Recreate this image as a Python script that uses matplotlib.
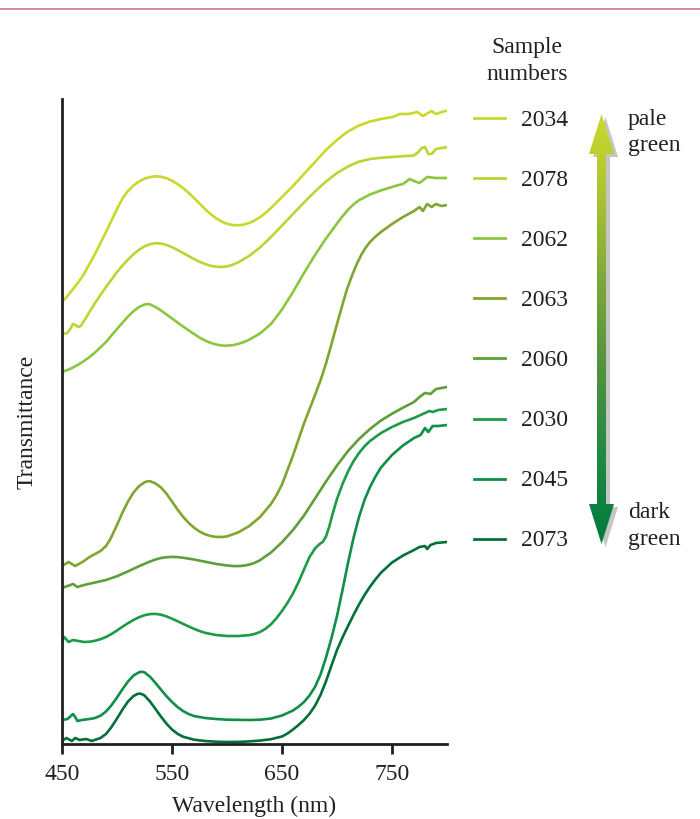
import numpy as np
import matplotlib
matplotlib.use("Agg")
import matplotlib.pyplot as plt
from matplotlib.patches import Polygon
from matplotlib.lines import Line2D
from matplotlib.colors import LinearSegmentedColormap

plt.rcParams['font.family'] = ['Liberation Serif', 'DejaVu Serif']

# Transmittance spectra (relative units) of eight samples, pale -> dark green
samples = ["2034", "2078", "2062", "2063", "2060", "2030", "2045", "2073"]
colors = ["#c8d82c", "#bcd533", "#8cc63f", "#80a630", "#5e9f39", "#1d9a4a", "#0f8f47", "#036f39"]

wl_2034 = [450, 455, 460, 465, 470, 480, 490, 500, 505, 510, 515, 520, 525, 530, 535, 540, 545, 550,
           555, 560, 565, 570, 575, 580, 585, 590, 595, 600, 605, 610, 615, 620, 625, 630, 635, 640,
           650, 660, 670, 680, 690, 695, 700, 705, 710, 720, 730, 740, 751, 757, 765, 773, 778, 786,
           790, 798, 800]
t_2034 = [442, 448, 455, 462, 470, 490, 512, 535, 545.5, 553, 558.5, 562.5, 565.3, 567, 567.7, 567.3,
          565.8, 563.3, 560, 556, 551.3, 546, 540.5, 535, 530, 525.8, 522.5, 520.2, 519, 518.7, 519.3,
          521, 523.5, 526.8, 531, 536, 547, 558, 570, 582, 594, 599, 604, 608.5, 612.5, 618.5, 622.5,
          625, 627, 630, 630, 632, 628, 633, 630, 633, 633]

wl_2078 = [450, 455, 458, 460, 462, 465, 467, 470, 475, 480, 490, 500, 505, 510, 515, 520, 525, 530,
           535, 540, 545, 550, 555, 560, 565, 570, 575, 580, 585, 590, 595, 600, 605, 610, 620, 630,
           640, 650, 660, 670, 680, 690, 700, 710, 715, 720, 730, 740, 750, 760, 770, 774, 777, 780,
           783, 786, 790, 795, 800]
t_2078 = [410, 411, 416, 420, 419, 417, 418, 423, 432, 441, 457, 472, 478.5, 484.5, 489.8, 494.3,
          497.7, 499.8, 500.8, 500.5, 499, 496.8, 494, 491, 488, 485, 482.3, 480, 478.3, 477.3, 477,
          477.6, 479.2, 481.5, 488, 496.5, 507, 518.5, 530, 541.5, 552.5, 562.5, 571, 577.5, 580,
          582.3, 585, 586.2, 587, 587.8, 588.5, 592, 596, 597, 590, 590, 595, 596, 597]

wl_2062 = [450, 455, 460, 465, 470, 475, 480, 490, 500, 505, 510, 515, 520, 525, 528, 530, 535, 540,
           550, 560, 570, 575, 580, 585, 590, 595, 600, 605, 610, 615, 620, 630, 640, 650, 660, 670,
           680, 690, 700, 705, 710, 715, 720, 730, 740, 750, 756, 760, 766, 770, 775, 782, 790, 800]
t_2062 = [372, 374, 376.5, 379.5, 383, 387, 391.5, 402, 415, 421.3, 427.5, 432.8, 437, 439.5, 440,
          439.6, 437, 433.5, 425.5, 417.5, 410, 406.5, 403.5, 401.2, 399.5, 398.5, 398.3, 398.8, 400,
          401.8, 404.2, 410.5, 420, 434.5, 452, 471, 489, 505.5, 520.5, 527.7, 534.3, 539.6, 543.8,
          549.5, 553.6, 557, 559, 560, 565, 563, 561, 567, 566, 566]

wl_2063 = [450, 456, 462, 470, 475, 480, 485, 490, 494, 500, 505, 510, 515, 520, 525, 528, 530, 535,
           540, 545, 550, 555, 560, 565, 570, 575, 580, 585, 590, 595, 600, 610, 620, 630, 640, 645,
           650, 660, 670, 680, 685, 690, 695, 700, 705, 709, 714, 718, 722, 726, 730, 735, 740, 750,
           760, 770, 775, 778, 782, 786, 790, 795, 800]
t_2063 = [178, 182, 178, 183, 187, 190, 193, 198, 205, 219, 231.5, 242.5, 251.5, 257.8, 261.7, 262.8,
          262.8, 260.6, 256.5, 250.3, 242.5, 234.5, 227.3, 221.3, 216.3, 212.5, 209.8, 208, 207.1,
          207, 207.6, 211.5, 217.8, 227, 240, 248.8, 259.5, 288.5, 320.5, 349, 363.5, 380.5, 400,
          420, 439.5, 454.5, 469.5, 480, 489, 496.3, 502, 507.5, 512, 520, 527, 533, 537, 533, 540,
          537, 540, 538, 539]

wl_2060 = [450, 455, 460, 464, 470, 480, 490, 500, 510, 520, 530, 535, 540, 545, 550, 555, 560, 570,
           580, 590, 600, 605, 610, 615, 620, 625, 630, 640, 650, 660, 670, 680, 690, 700, 710, 720,
           730, 740, 750, 760, 770, 775, 780, 785, 790, 800]
t_2060 = [156, 158, 160, 157, 159, 161.5, 164, 167.8, 172.6, 177.8, 182.5, 184.5, 186, 186.8, 187.1,
          186.9, 186.3, 184.5, 182.3, 180.1, 178.5, 178, 177.9, 178.3, 179.3, 181.1, 183.8, 191.5,
          201.8, 214, 228.5, 245.5, 262.5, 278.5, 293, 305, 315, 323.5, 330.3, 336.3, 342, 347, 351,
          350, 355, 357]

wl_2030 = [450, 452, 456, 460, 465, 470, 475, 480, 485, 490, 495, 500, 505, 510, 515, 520, 525, 530,
           535, 540, 545, 550, 555, 560, 565, 570, 575, 580, 590, 600, 610, 620, 625, 630, 635, 640,
           645, 650, 655, 660, 665, 670, 675, 680, 684, 687, 690, 693, 696, 700, 705, 710, 715, 720,
           725, 730, 740, 750, 760, 770, 778, 784, 787, 792, 800]
t_2030 = [103, 107, 102, 104, 103, 102, 102.3, 103.2, 104.8, 107, 110, 113.5, 117.3, 120.8, 124,
          126.8, 128.8, 129.9, 130.1, 129.3, 127.6, 125.3, 122.8, 120.2, 117.6, 115.2, 113, 111.2,
          109, 108, 108, 108.8, 110, 112, 115.2, 119.7, 125.8, 133, 141.2, 150.5, 161.8, 174.5, 187,
          195.5, 199.8, 202, 207.5, 217.5, 230, 245, 260, 272.5, 282.8, 291, 297.7, 303, 311, 317,
          322, 326, 330, 333, 332, 334, 335]

wl_2045 = [450, 455, 458, 460, 462, 464, 468, 475, 480, 485, 490, 495, 500, 505, 510, 515, 520, 523,
           525, 530, 535, 540, 545, 550, 555, 560, 565, 570, 580, 590, 600, 620, 630, 640, 650, 660,
           665, 670, 675, 680, 685, 690, 695, 700, 705, 710, 715, 720, 725, 730, 735, 740, 750, 760,
           770, 776, 780, 783, 787, 792, 800]
t_2045 = [24, 25, 28, 30, 27, 23, 24, 25, 26, 28.3, 32.5, 38.8, 46.5, 54.8, 62.5, 68.5, 71.7, 72.3,
          71.6, 67.3, 61, 54.3, 47.8, 42, 37, 33, 30, 28, 26, 25, 24.3, 24, 24.3, 25.5, 28.5, 33.5,
          37.3, 42, 48.5, 57, 69.5, 86.5, 106, 128, 154, 181, 206, 227, 244, 257, 267.5, 276.5,
          289, 298.5, 306, 309, 316, 312, 318, 318, 319]

wl_2073 = [450, 454, 459, 462, 466, 472, 477, 485, 490, 495, 500, 505, 510, 515, 519, 522, 525, 530,
           535, 540, 545, 550, 555, 560, 570, 580, 590, 600, 610, 620, 630, 640, 650, 655, 660, 665,
           670, 675, 680, 685, 690, 695, 700, 705, 710, 715, 720, 725, 730, 735, 740, 750, 760, 770,
           775, 780, 782, 785, 790, 800]
t_2073 = [3, 6, 3, 6, 4, 5, 3, 6, 10, 17, 25.5, 34.5, 42.5, 48, 50.3, 50.2, 48.5, 42.5,
          35, 27.3, 20.3, 14.5, 10.2, 7.3, 4.3, 3, 2.3, 2, 2.1, 2.6, 3.4, 4.8, 7.5, 10.5, 14.5, 19,
          24, 30.2, 38.2, 49, 62.8, 78.5, 94, 106.5, 118, 129, 139.5, 149, 157.3, 164.7, 171.3, 181.5,
          188.5, 194, 197, 198, 195, 199, 201, 202]

wavelengths = [wl_2034, wl_2078, wl_2062, wl_2063, wl_2060, wl_2030, wl_2045, wl_2073]
spectra = [t_2034, t_2078, t_2062, t_2063, t_2060, t_2030, t_2045, t_2073]

x_ticks = [450, 550, 650, 750]

W, H = 700, 820
FS = 17
fig = plt.figure(figsize=(W / 100, H / 100), dpi=100)

ink = "#231f20"
ax = fig.add_axes([62 / W, 75 / H, 385 / W, 645 / H])
for wl, t, c in zip(wavelengths, spectra, colors):
    ax.plot(wl, t, color=c, lw=1.9, solid_capstyle="round", solid_joinstyle="round")
ax.set_xlim(450, 800)
ax.set_ylim(0, 645)
ax.set_xticks(x_ticks)
ax.set_xticklabels([str(v) for v in x_ticks])
ax.set_yticks([])
for side in ("top", "right"):
    ax.spines[side].set_visible(False)
for side in ("left", "bottom"):
    ax.spines[side].set_color(ink)
    ax.spines[side].set_linewidth(2.0)
ax.tick_params(axis="x", direction="out", length=7, width=2.0, color=ink,
               labelsize=FS, labelcolor=ink, pad=7)

fig.text(27 / W, 1 - 422 / H, "Transmittance", rotation=90, ha="center", va="center",
         fontsize=FS, color=ink)
fig.text(254 / W, 1 - 806 / H, "Wavelength (nm)", ha="center", va="center",
         fontsize=FS, color=ink)

# Overlay in pixel coordinates for the key, the colour arrow and the rule at the top
ov = fig.add_axes([0, 0, 1, 1])
ov.set_xlim(0, W)
ov.set_ylim(H, 0)
ov.axis("off")

ov.add_line(Line2D([0, W], [10, 10], color="#cf808b", lw=1.3))

ov.text(527, 48, "Sample", ha="center", va="center", fontsize=FS, color=ink)
ov.text(527, 75, "numbers", ha="center", va="center", fontsize=FS, color=ink)
for i, (name, c) in enumerate(zip(samples, colors)):
    y = 119 + 60.1 * i
    ov.add_line(Line2D([474, 505], [y, y], color=c, lw=2.0))
    ov.text(521, y + 1, name, ha="left", va="center", fontsize=FS, color=ink)

# Double-headed gradient arrow with a grey drop shadow
cx, top, bot = 601.5, 115, 545
hw, sw, hl = 12.5, 4.5, 40


def arrow_verts(dx=0.0, dy=0.0):
    pts = [(cx, top), (cx + hw, top + hl), (cx + sw, top + hl), (cx + sw, bot - hl),
           (cx + hw, bot - hl), (cx, bot), (cx - hw, bot - hl), (cx - sw, bot - hl),
           (cx - sw, top + hl), (cx - hw, top + hl)]
    return [(x + dx, y + dy) for x, y in pts]


ov.add_patch(Polygon(arrow_verts(4, 3), closed=True, facecolor="#c5c5c5",
                     edgecolor="none", zorder=1))
clip = Polygon(arrow_verts(), closed=True, facecolor="none", edgecolor="none", zorder=2)
ov.add_patch(clip)
grad_cmap = LinearSegmentedColormap.from_list(
    "palegreen_darkgreen", ["#cbd92c", "#a9c232", "#7aa63a", "#4f923e", "#1e8a43", "#007a3c"])
img = ov.imshow(np.linspace(0, 1, 256).reshape(-1, 1), cmap=grad_cmap, aspect="auto",
                extent=(cx - hw, cx + hw, bot, top), interpolation="bilinear", zorder=3)
img.set_clip_path(clip)
ov.set_xlim(0, W)
ov.set_ylim(H, 0)

ov.text(628, 120, "pale", ha="left", va="center", fontsize=FS, color=ink)
ov.text(628, 146, "green", ha="left", va="center", fontsize=FS, color=ink)
ov.text(628, 513, "dark", ha="left", va="center", fontsize=FS, color=ink)
ov.text(628, 540, "green", ha="left", va="center", fontsize=FS, color=ink)

fig.savefig("out.png", dpi=100)
